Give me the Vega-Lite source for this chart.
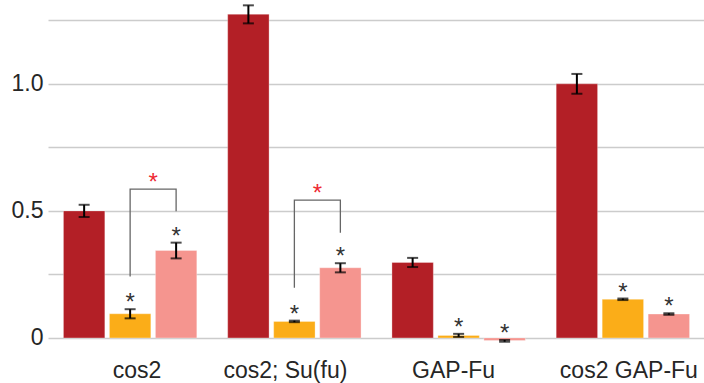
{
  "$schema": "https://vega.github.io/schema/vega-lite/v6.json",
  "autosize": {"type": "none"},
  "padding": {"left": 48, "top": 0, "right": 0, "bottom": 40},
  "width": 657,
  "height": 343,
  "background": "white",
  "config": {"view": {"stroke": null}, "font": "Liberation Sans"},
  "datasets": {
    "bars": [
      {"group": "cos2", "series": "A", "value": 0.5, "lo": 0.476, "hi": 0.524, "star": ""},
      {"group": "cos2", "series": "B", "value": 0.095, "lo": 0.077, "hi": 0.113, "star": "*"},
      {"group": "cos2", "series": "C", "value": 0.344, "lo": 0.313, "hi": 0.375, "star": "*"},
      {"group": "cos2; Su(fu)", "series": "A", "value": 1.274, "lo": 1.238, "hi": 1.309, "star": ""},
      {"group": "cos2; Su(fu)", "series": "B", "value": 0.065, "lo": 0.062, "hi": 0.068, "star": "*"},
      {"group": "cos2; Su(fu)", "series": "C", "value": 0.276, "lo": 0.258, "hi": 0.294, "star": "*"},
      {"group": "GAP-Fu", "series": "A", "value": 0.297, "lo": 0.279, "hi": 0.315, "star": ""},
      {"group": "GAP-Fu", "series": "B", "value": 0.01, "lo": 0.004, "hi": 0.016, "star": "*"},
      {"group": "GAP-Fu", "series": "C", "value": -0.01, "lo": -0.015, "hi": -0.008, "star": "*"},
      {"group": "cos2 GAP-Fu", "series": "A", "value": 1.0, "lo": 0.961, "hi": 1.039, "star": ""},
      {"group": "cos2 GAP-Fu", "series": "B", "value": 0.152, "lo": 0.149, "hi": 0.155, "star": "*"},
      {"group": "cos2 GAP-Fu", "series": "C", "value": 0.094, "lo": 0.091, "hi": 0.097, "star": "*"}
    ],
    "brackets": [
      {"group": "cos2", "series": "B", "y": 0.242, "order": 1},
      {"group": "cos2", "series": "B", "y": 0.586, "order": 2},
      {"group": "cos2", "series": "C", "y": 0.586, "order": 3},
      {"group": "cos2", "series": "C", "y": 0.499, "order": 4},
      {"group": "cos2; Su(fu)", "series": "B", "y": 0.197, "order": 1},
      {"group": "cos2; Su(fu)", "series": "B", "y": 0.5425, "order": 2},
      {"group": "cos2; Su(fu)", "series": "C", "y": 0.5425, "order": 3},
      {"group": "cos2; Su(fu)", "series": "C", "y": 0.414, "order": 4}
    ],
    "redstars": [
      {"group": "cos2", "series": "B", "y": 0.586, "star": "*"},
      {"group": "cos2; Su(fu)", "series": "B", "y": 0.5425, "star": "*"}
    ]
  },
  "encoding": {
    "x": {
      "field": "group", "type": "nominal", "sort": null,
      "scale": {"domain": ["cos2", "cos2; Su(fu)", "GAP-Fu", "cos2 GAP-Fu"], "paddingInner": 0.188, "paddingOuter": 0.094},
      "axis": {
        "title": null, "labelAngle": 0, "labelFontSize": 23, "labelColor": "#262626", "labelPadding": 16,
        "labelOffset": {"condition": [
          {"test": "datum.value == 'cos2'", "value": 7},
          {"test": "datum.value == 'cos2; Su(fu)'", "value": -9},
          {"test": "datum.value == 'GAP-Fu'", "value": -5}
        ], "value": 6},
        "ticks": false, "domain": false, "grid": false, "labelFont": "Liberation Sans"
      }
    },
    "xOffset": {
      "field": "series", "type": "nominal",
      "scale": {"domain": ["A", "B", "C"], "paddingInner": 0.1, "paddingOuter": 0}
    }
  },
  "layer": [
    {
      "data": {"name": "bars"},
      "mark": {"type": "bar", "stroke": "white", "strokeOpacity": 0.3, "strokeWidth": 1},
      "encoding": {
        "y": {
          "field": "value", "type": "quantitative",
          "scale": {"domain": [-0.02, 1.33], "nice": false, "zero": false},
          "axis": {
            "title": null,
            "values": [0, 0.25, 0.5, 0.75, 1, 1.25],
            "labelExpr": "datum.value == 0 ? '0' : datum.value == 0.5 ? '0.5' : datum.value == 1 ? '1.0' : ''",
            "labelFontSize": 23, "labelColor": "#262626", "labelFont": "Liberation Sans",
            "labelPadding": 5,
            "ticks": false, "domain": false,
            "gridColor": "#cccccc", "gridWidth": 1.5
          }
        },
        "color": {
          "field": "series", "type": "nominal", "legend": null,
          "scale": {"domain": ["A", "B", "C"], "range": ["#b31f26", "#fbad18", "#f5958f"]}
        }
      }
    },
    {
      "data": {"name": "bars"},
      "mark": {"type": "rule", "color": "black", "strokeWidth": 2},
      "encoding": {"y": {"field": "lo", "type": "quantitative"}, "y2": {"field": "hi"}}
    },
    {
      "data": {"name": "bars"},
      "mark": {"type": "tick", "orient": "horizontal", "color": "black", "size": 11, "thickness": 2},
      "encoding": {"y": {"field": "lo", "type": "quantitative"}}
    },
    {
      "data": {"name": "bars"},
      "mark": {"type": "tick", "orient": "horizontal", "color": "black", "size": 11, "thickness": 2},
      "encoding": {"y": {"field": "hi", "type": "quantitative"}}
    },
    {
      "data": {"name": "bars"},
      "mark": {"type": "text", "fontSize": 24, "color": "#333333", "baseline": "alphabetic", "dy": 1, "font": "Liberation Sans"},
      "encoding": {"y": {"field": "hi", "type": "quantitative"}, "text": {"field": "star"}}
    },
    {
      "data": {"name": "brackets"},
      "mark": {"type": "line", "color": "#666666", "strokeWidth": 1.3},
      "encoding": {
        "y": {"field": "y", "type": "quantitative"},
        "detail": {"field": "group"},
        "order": {"field": "order", "type": "quantitative"}
      }
    },
    {
      "data": {"name": "redstars"},
      "mark": {"type": "text", "fontSize": 24, "color": "#ee2a33", "baseline": "alphabetic", "dy": 1, "dx": 23, "font": "Liberation Sans"},
      "encoding": {"y": {"field": "y", "type": "quantitative"}, "text": {"field": "star"}}
    }
  ]
}
